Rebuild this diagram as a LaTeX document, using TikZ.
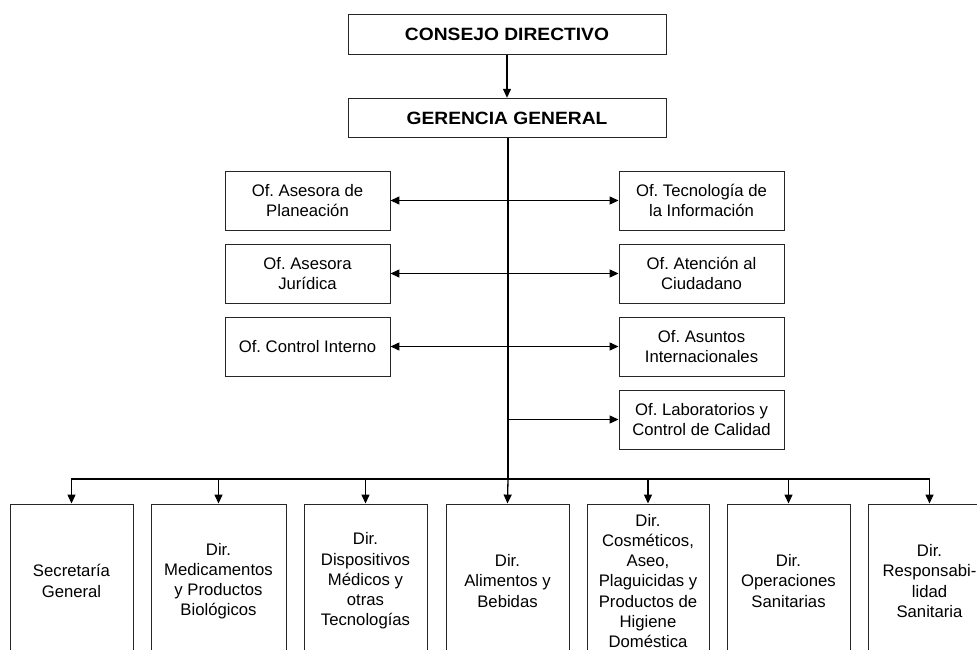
\documentclass[tikz,border=0pt]{standalone}
\usepackage{fontspec}
\setmainfont{Liberation Sans}
\newfontfamily\widefont[FakeStretch=1.08]{Liberation Sans}
\usetikzlibrary{arrows.meta}
\tikzset{
  box/.style={draw=black!85, line width=0.9pt, fill=white, inner sep=0pt, align=center,
    font=\frenchspacing\fontsize{16.7}{20.2}\selectfont},
  topbox/.style={box, minimum width=318pt, minimum height=39.5pt,
    font=\widefont\bfseries\fontsize{17.8}{20}\selectfont},
  ofbox/.style={box, minimum width=165pt, minimum height=59pt},
  dirbox/.style={box, minimum height=154pt},
  conn/.style={line width=1.3pt, black},
  tip/.style={-{Triangle[length=9pt,width=8pt]}},
  dtip/.style={{Triangle[length=9pt,width=8pt]}-{Triangle[length=9pt,width=8pt]}}
}
\begin{document}
\begin{tikzpicture}[x=1pt,y=-1pt]
\useasboundingbox (0,0) rectangle (977,650);
\clip (0,0) rectangle (977,650);
\fill[white] (0,0) rectangle (977,650);

\node[topbox] (cd) at (507,34.5) {CONSEJO DIRECTIVO};
\node[topbox] (gg) at (507,118) {GERENCIA GENERAL};

\node[ofbox] (l1) at (307.5,200.5) {Of. Asesora de\\Planeación};
\node[ofbox] (l2) at (307.5,273.5) {Of. Asesora\\Jurídica};
\node[ofbox] (l3) at (307.5,346.5) {Of. Control Interno};
\node[ofbox] (r1) at (701.5,200.5) {Of. Tecnología de\\la Información};
\node[ofbox] (r2) at (701.5,273.5) {Of. Atención al\\Ciudadano};
\node[ofbox] (r3) at (701.5,346.5) {Of. Asuntos\\Internacionales};
\node[ofbox] (r4) at (701.5,419.5) {Of. Laboratorios y\\Control de Calidad};

\node[dirbox, minimum width=123pt] (b1) at (71.5,581) {Secretaría\\General};
\node[dirbox, minimum width=135pt] (b2) at (218.5,581) {Dir.\\Medicamentos\\y Productos\\Biológicos};
\node[dirbox, minimum width=123pt] (b3) at (365.5,581) {Dir.\\Dispositivos\\Médicos y\\otras\\Tecnologías};
\node[dirbox, minimum width=123pt] (b4) at (507.5,581) {Dir.\\Alimentos y\\Bebidas};
\node[dirbox, minimum width=122pt] (b5) at (648,581) {Dir.\\Cosméticos,\\Aseo,\\Plaguicidas y\\Productos de\\Higiene\\Doméstica};
\node[dirbox, minimum width=123pt] (b6) at (788.5,581) {Dir.\\Operaciones\\Sanitarias};
\node[dirbox, minimum width=123pt] (b7) at (929.5,581) {Dir.\\Responsabi-\\lidad\\Sanitaria};

\coordinate (top) at (508,138.5);
\coordinate (lab) at (508,419.5);
\coordinate (bus) at (508,479);

\draw[conn,tip] (cd.south) -- (gg.north);
\draw[conn] (top) -- (bus);
\draw[conn,dtip] (l1.east) -- (r1.west);
\draw[conn,dtip] (l2.east) -- (r2.west);
\draw[conn,dtip] (l3.east) -- (r3.west);
\draw[conn,tip] (lab) -- (r4.west);

\draw[conn,tip] (bus) -| (b1.north);
\draw[conn,tip] (bus) -| (b2.north);
\draw[conn,tip] (bus) -| (b3.north);
\draw[conn,tip] (bus) -- (b4.north);
\draw[conn,tip] (bus) -| (b5.north);
\draw[conn,tip] (bus) -| (b6.north);
\draw[conn,tip] (bus) -| (b7.north);
\end{tikzpicture}
\end{document}
